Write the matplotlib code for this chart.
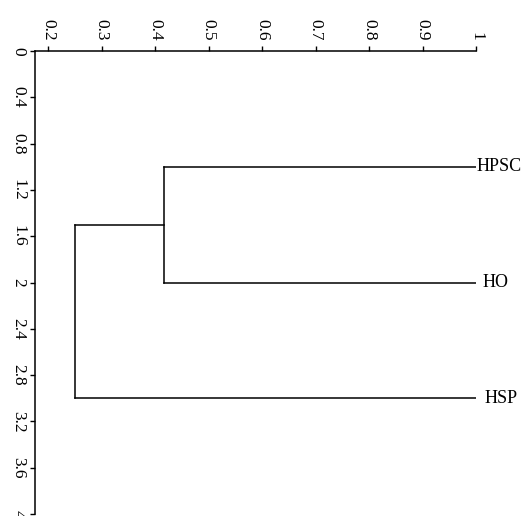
import matplotlib
matplotlib.use("Agg")
import matplotlib.pyplot as plt

# Blaetter und Fusionshoehen (Aehnlichkeit)
blaetter = ["HPSC", "HO", "HSP"]
blatt_pos = [1, 2, 3]
blatt_wert = 1.0
fusion_1 = 0.416   # HPSC + HO
fusion_2 = 0.25    # (HPSC, HO) + HSP

x_ticks = [0.2, 0.3, 0.4, 0.5, 0.6, 0.7, 0.8, 0.9, 1]
x_labels = ["0.2", "0.3", "0.4", "0.5", "0.6", "0.7", "0.8", "0.9", "1"]
y_ticks = [0, 0.4, 0.8, 1.2, 1.6, 2, 2.4, 2.8, 3.2, 3.6, 4]
y_labels = ["0", "0.4", "0.8", "1.2", "1.6", "2", "2.4", "2.8", "3.2", "3.6", "4"]
label_abstand = [1, 7, 9]  # Pixel-Abstand Text zu Linie

plt.rcParams['font.family'] = ['Liberation Serif', 'DejaVu Serif']

fig = plt.figure(figsize=(5.29, 5.16), dpi=100)
ax = fig.add_axes([35/529, 2/516, (476-35)/529, (514-51)/516 + 0.0])
# Achsenbereich: oben y=51 px, unten y=514 px
ax.set_position([35/529, 1 - 514/516, (476-35)/529, (514-51)/516])

lw = 1.1
farbe = "black"
# Blaetter zum ersten Knoten
for y in blatt_pos[:2]:
    ax.plot([blatt_wert, fusion_1], [y, y], color=farbe, lw=lw)
ax.plot([fusion_1, fusion_1], [blatt_pos[0], blatt_pos[1]], color=farbe, lw=lw)
mitte_1 = (blatt_pos[0] + blatt_pos[1]) / 2
ax.plot([fusion_1, fusion_2], [mitte_1, mitte_1], color=farbe, lw=lw)
ax.plot([blatt_wert, fusion_2], [blatt_pos[2], blatt_pos[2]], color=farbe, lw=lw)
ax.plot([fusion_2, fusion_2], [mitte_1, blatt_pos[2]], color=farbe, lw=lw)

for name, y, d in zip(blaetter, blatt_pos, label_abstand):
    ax.annotate(name, xy=(blatt_wert, y), xytext=(d * 0.72, 0), textcoords="offset points",
                ha="left", va="center", fontsize=13, annotation_clip=False)

ax.set_xlim(0.1757, 1.0)
ax.set_ylim(4, 0)
ax.xaxis.tick_top()
ax.set_xticks(x_ticks)
ax.set_xticklabels(x_labels, rotation=-90, fontsize=12.5)
ax.set_yticks(y_ticks)
ax.set_yticklabels(y_labels, rotation=-90, va="center", fontsize=12.5)
ax.tick_params(axis="both", direction="out", length=3.5, width=1, pad=3)
ax.tick_params(axis="x", pad=4)

for s in ["right", "bottom"]:
    ax.spines[s].set_visible(False)
for s in ["top", "left"]:
    ax.spines[s].set_linewidth(1.1)

fig.savefig("out.png", dpi=100)
